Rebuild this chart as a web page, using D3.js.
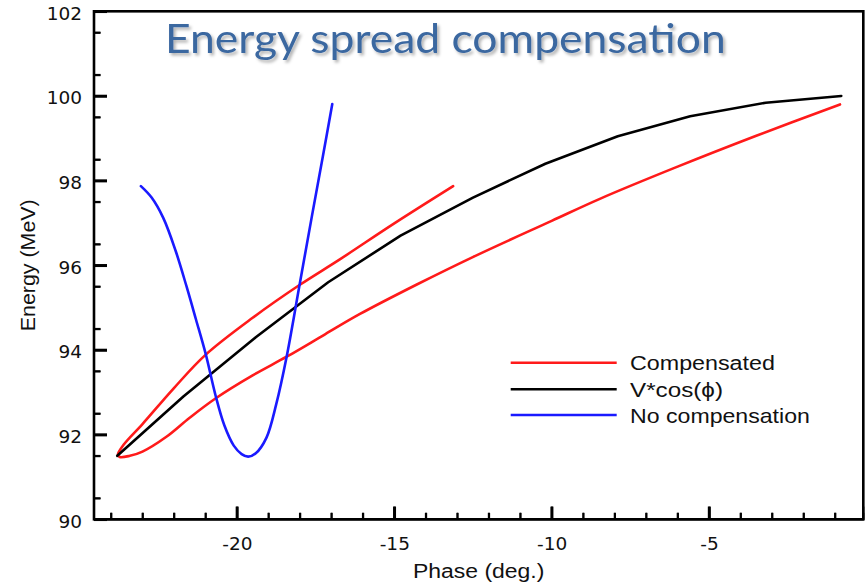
<!DOCTYPE html>
<html>
<head>
<meta charset="utf-8">
<script src="https://cdn.jsdelivr.net/npm/d3@7"></script>
<style>
  html, body { margin: 0; padding: 0; background: #ffffff; }
  svg { display: block; }
  text { font-family: "Liberation Sans", Arial, Helvetica, sans-serif; }
  text.title { font-family: Lato, "Open Sans", sans-serif; }
  .tick text { font-family: "DejaVu Sans", "Liberation Sans", sans-serif; }
</style>
</head>
<body>
<svg id="chart" width="868" height="586"></svg>
<script>
// ---- data -------------------------------------------------------------
// V*cos(phi) reference curve
const cosPhase  = [-23.8, -21.7, -19.4, -17.1, -14.8, -12.5, -10.2, -7.9, -5.6, -3.2, -0.8];
const cosEnergy = [91.5, 92.9, 94.3, 95.6, 96.7, 97.6, 98.4, 99.05, 99.52, 99.84, 100.0];

// Compensated bunch: upper branch (head) down to the tip, then lower branch (tail)
const compPhase  = [-13.13, -15.0, -16.73, -18.0, -19.5, -20.99, -22.0, -23.0, -23.6, -23.78,
                    -23.72, -23.4, -23.0, -22.24, -21.5, -20.67, -19.5, -18.42, -17.2, -16.09,
                    -14.3, -12.49, -10.0, -8.47, -6.0, -3.5, -0.84];
const compEnergy = [97.87, 96.99, 96.14, 95.54, 94.76, 93.89, 93.10, 92.25, 91.76, 91.53,
                    91.47, 91.50, 91.60, 91.95, 92.40, 92.86, 93.40, 93.84, 94.37, 94.85,
                    95.54, 96.20, 97.05, 97.57, 98.33, 99.06, 99.80];

// Without compensation
const noCompPhase  = [-23.05, -22.71, -22.34, -21.95, -21.6, -21.3, -20.99, -20.67, -20.4, -20.1,
                      -19.85, -19.64, -19.4, -19.06, -18.75, -18.42, -18.03, -17.62, -17.27, -16.97];
const noCompEnergy = [97.87, 97.60, 97.12, 96.35, 95.50, 94.72, 93.90, 92.90, 92.22, 91.74,
                      91.54, 91.48, 91.56, 91.93, 92.72, 93.84, 95.45, 97.15, 98.57, 99.81];

const xMajorTicks = [-20, -15, -10, -5];
const yMajorTicks = [90, 92, 94, 96, 98, 100, 102];

const seriesNames  = ["Compensated", "V*cos(\u03D5)", "No compensation"];
const seriesColors = ["#ff1a1a", "#000000", "#1a1aff"];

const titleText = "Energy spread compensation";
const xTitle = "Phase (deg.)";
const yTitle = "Energy (MeV)";

// ---- layout -------------------------------------------------------------
const plot = { left: 94, right: 863.3, top: 11.3, bottom: 519.3 };

const svg = d3.select("#chart");

const x = d3.scaleLinear().domain([-24.54, -0.1]).range([plot.left, plot.right]);
const y = d3.scaleLinear().domain([90, 102]).range([plot.bottom, plot.top]);

const xMinorTicks = d3.range(-24, 0, 1).filter(v => !xMajorTicks.includes(v));
const yMinorTicks = d3.range(90.5, 102, 1);
const plainNumber = d => String(d);

// place a text at (tx, ty) and stretch it horizontally to a given width
function placeText(sel, tx, ty, width, extra) {
  const w = sel.node().getComputedTextLength();
  const s = w > 0 ? width / w : 1;
  sel.attr("transform", `translate(${tx},${ty}) ${extra || ""} scale(${s},1)`);
  return sel;
}

// ---- title -------------------------------------------------------------
const defs = svg.append("defs");
defs.append("filter").attr("id", "titleShadow")
  .attr("x", "-5%").attr("y", "-20%").attr("width", "115%").attr("height", "150%")
  .append("feDropShadow")
  .attr("dx", 2).attr("dy", 2.5).attr("stdDeviation", 1.6)
  .attr("flood-color", "#000").attr("flood-opacity", 0.3);

const title = svg.append("text")
  .attr("class", "title")
  .attr("font-size", 41)
  .attr("fill", "#3b67a0")
  .attr("filter", "url(#titleShadow)")
  .text(titleText);
placeText(title, 165, 52.7, 561);

// ---- curves -------------------------------------------------------------
const smooth = d3.line().x(d => x(d[0])).y(d => y(d[1])).curve(d3.curveCatmullRom.alpha(0.5));
const straight = d3.line().x(d => x(d[0])).y(d => y(d[1]));

const curves = [
  { pts: d3.zip(compPhase, compEnergy), gen: smooth, color: seriesColors[0] },
  { pts: d3.zip(cosPhase, cosEnergy), gen: straight, color: seriesColors[1] },
  { pts: d3.zip(noCompPhase, noCompEnergy), gen: smooth, color: seriesColors[2] }
];

svg.append("g").attr("class", "curves").selectAll("path")
  .data(curves)
  .join("path")
  .attr("d", d => d.gen(d.pts))
  .attr("fill", "none")
  .attr("stroke", d => d.color)
  .attr("stroke-width", 2.6)
  .attr("stroke-linejoin", "round")
  .attr("stroke-linecap", "round");

// ---- legend -------------------------------------------------------------
const legendRows = [362.7, 389.3, 415];
const legendWidths = [145, 93, 180];
const legend = svg.append("g");
seriesNames.forEach((name, i) => {
  legend.append("line")
    .attr("x1", 510.7).attr("x2", 616.7)
    .attr("y1", legendRows[i]).attr("y2", legendRows[i])
    .attr("stroke", seriesColors[i]).attr("stroke-width", 2.6);
  const t = legend.append("text")
    .attr("font-size", 20)
    .attr("fill", "#111")
    .text(name);
  placeText(t, 630, legendRows[i] + 7.6, legendWidths[i]);
});

// axis titles
const xt = svg.append("text")
  .attr("text-anchor", "middle").attr("font-size", 21)
  .attr("fill", "#111")
  .text(xTitle);
placeText(xt, (plot.left + plot.right) / 2, 578.3, 131.6);

const yt = svg.append("text")
  .attr("text-anchor", "middle").attr("font-size", 21)
  .attr("fill", "#111")
  .text(yTitle);
placeText(yt, 35, (plot.top + plot.bottom) / 2, 132, "rotate(-90)");

// frame
svg.append("rect")
  .attr("x", plot.left).attr("y", plot.top)
  .attr("width", plot.right - plot.left).attr("height", plot.bottom - plot.top)
  .attr("fill", "none").attr("stroke", "#000").attr("stroke-width", 2.6);

// ---- axes, ticks pointing inward ----------------------------------------
const yMinorAxis = svg.append("g")
  .attr("transform", `translate(${plot.left},0)`)
  .call(d3.axisLeft(y).tickValues(yMinorTicks).tickSize(-6.5).tickFormat(""));
const yMajorAxis = svg.append("g")
  .attr("transform", `translate(${plot.left},0)`)
  .call(d3.axisLeft(y).tickValues(yMajorTicks).tickSize(-13).tickPadding(12).tickFormat(plainNumber));
const xMinorAxis = svg.append("g")
  .attr("transform", `translate(0,${plot.bottom})`)
  .call(d3.axisBottom(x).tickValues(xMinorTicks).tickSize(-6.5).tickFormat(""));
const xMajorAxis = svg.append("g")
  .attr("transform", `translate(0,${plot.bottom})`)
  .call(d3.axisBottom(x).tickValues(xMajorTicks).tickSize(-12.7).tickPadding(17.5).tickFormat(plainNumber));

[yMinorAxis, xMinorAxis].forEach(g => g.selectAll(".tick line")
  .attr("stroke", "#000").attr("stroke-width", 1.8));
[yMajorAxis, xMajorAxis].forEach(g => g.selectAll(".tick line")
  .attr("stroke", "#000").attr("stroke-width", 2.5));

[yMajorAxis, xMajorAxis].forEach(g => g.selectAll(".tick text")
  .attr("font-size", 18.5)
  .attr("fill", "#111"));
yMajorAxis.selectAll(".tick text").attr("dy", "0.43em");

// tick marks also laid down as plain segments from the same scales
const tickMarks = svg.append("g").attr("class", "tick-marks").attr("stroke", "#000");
tickMarks.selectAll("line.ym").data(yMinorTicks).join("line").attr("class", "ym")
  .attr("x1", plot.left).attr("x2", plot.left + 6.5)
  .attr("y1", d => y(d)).attr("y2", d => y(d)).attr("stroke-width", 1.8);
tickMarks.selectAll("line.yM").data(yMajorTicks).join("line").attr("class", "yM")
  .attr("x1", plot.left).attr("x2", plot.left + 13)
  .attr("y1", d => y(d)).attr("y2", d => y(d)).attr("stroke-width", 2.5);
tickMarks.selectAll("line.xm").data(xMinorTicks).join("line").attr("class", "xm")
  .attr("x1", d => x(d)).attr("x2", d => x(d))
  .attr("y1", plot.bottom).attr("y2", plot.bottom - 6.5).attr("stroke-width", 1.8);
tickMarks.selectAll("line.xM").data(xMajorTicks).join("line").attr("class", "xM")
  .attr("x1", d => x(d)).attr("x2", d => x(d))
  .attr("y1", plot.bottom).attr("y2", plot.bottom - 12.7).attr("stroke-width", 2.5);
</script>
</body>
</html>
